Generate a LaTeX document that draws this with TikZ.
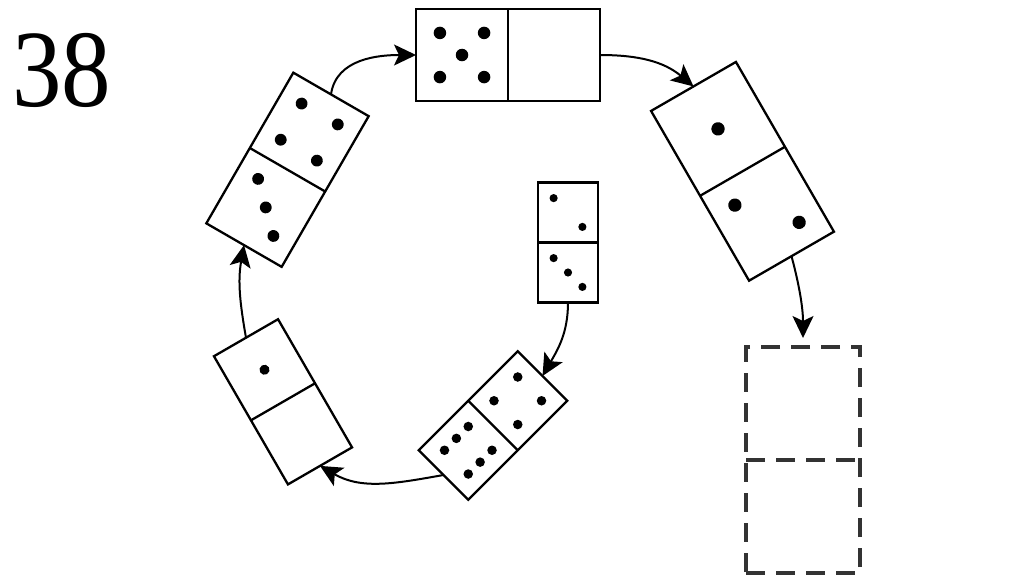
\documentclass[tikz,border=0pt]{standalone}
\usepackage{fontspec}
\setmainfont{Liberation Serif}
\usepackage{tikz}
\usetikzlibrary{arrows.meta}

% pip offsets of one half (units of 0.24 half size)
\newcommand{\pipsZero}{}
\newcommand{\pipsOne}{0/0}
\newcommand{\pipsTwo}{-1/1,1/-1}
\newcommand{\pipsThree}{-1/1,0/0,1/-1}
\newcommand{\pipsFour}{-1/1,1/1,-1/-1,1/-1}
\newcommand{\pipsFive}{-1/1,1/1,0/0,-1/-1,1/-1}
\newcommand{\pipsSix}{-1/1,1/1,-1/0,1/0,-1/-1,1/-1}

% name, centre, angle, half size, upper pips, lower pips
\newcommand{\domino}[6]{%
  \node[domino=#4pt, rotate=#3] (#1) at (#2) {};
  \draw[line width=2.3pt] (#1.west) -- (#1.east);
  \begin{scope}[shift={(#1.center)}, rotate=#3, x=#4pt, y=#4pt]
    \foreach \px/\py in #5 {\fill (0.24*\px, 0.5+0.24*\py) circle[radius=0.068];}
    \foreach \px/\py in #6 {\fill (0.24*\px, -0.5+0.24*\py) circle[radius=0.068];}
  \end{scope}}

\begin{document}
\begin{tikzpicture}[x=1pt, y=1pt,
    domino/.style={draw, rectangle, line width=2.3pt, inner sep=0pt, outer sep=0pt,
      minimum width=#1, minimum height=2*#1},
    blank/.style={draw=black!80, line width=3.2pt, dash pattern=on 19pt off 11pt,
      inner sep=0pt, outer sep=0pt, minimum width=114pt, minimum height=226pt},
    link/.style={line width=2pt, -{Stealth[length=22pt, width=21pt, inset=5pt]}}]
    \useasboundingbox (0,0) rectangle (1024,-574);

    % --- Number ---
    \node[font=\fontsize{110}{110}\selectfont, anchor=base west, inner sep=0pt, xscale=0.9] (num) at (12,-106) {38};

    % --- Dominoes round the ring ---
    \domino{top}{508,-55}{90}{92}{\pipsFive}{\pipsZero}
    \domino{ul}{287.5,-169.75}{-30}{87}{\pipsFour}{\pipsThree}
    \domino{rt}{742.5,-171.3}{30}{98}{\pipsOne}{\pipsTwo}
    \domino{cen}{568,-242.5}{0}{60}{\pipsTwo}{\pipsThree}
    \domino{bt}{493,-425.5}{-45}{70}{\pipsFour}{\pipsSix}
    \domino{ll}{283,-401.8}{30}{74}{\pipsOne}{\pipsZero}

    % --- Missing domino ---
    \node[blank] (nx) at (803,-460) {};
    \draw[draw=black!80, line width=3.2pt, dash pattern=on 19pt off 11pt] (nx.west) -- (nx.east);

    % --- Arrows ---
    \draw[link] (ul.north) to[out=82, in=180] (top.north);
    \draw[link] (top.south) to[out=0, in=140] (rt.north);
    \draw[link, shorten >=9pt] (rt.south) to[out=-75, in=90] (nx.north);
    \draw[link] (cen.south) to[out=-90, in=60] (bt.north);
    \draw[link] (bt.south) to[out=190, in=-30] (ll.south);
    \draw[link] (ll.north) to[out=100, in=-100] (ul.south);
\end{tikzpicture}
\end{document}
